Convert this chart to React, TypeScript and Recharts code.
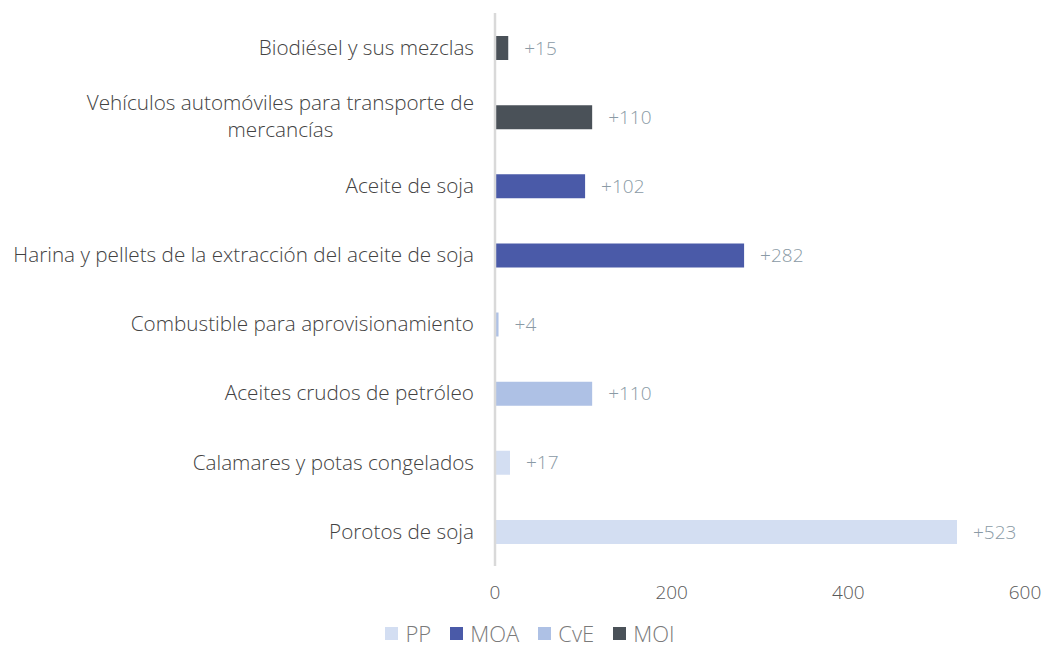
import { BarChart, Bar, XAxis, YAxis, Legend, LabelList } from 'recharts';

const categories = [
  'Biodiésel y sus mezclas',
  'Vehículos automóviles para transporte de mercancías',
  'Aceite de soja',
  'Harina y pellets de la extracción del aceite de soja',
  'Combustible para aprovisionamiento',
  'Aceites crudos de petróleo',
  'Calamares y potas congelados',
  'Porotos de soja',
];

const groups = ['MOI', 'MOI', 'MOA', 'MOA', 'CvE', 'CvE', 'PP', 'PP'];
const values = [15, 110, 102, 282, 4, 110, 17, 523];

const seriesNames = ['PP', 'MOA', 'CvE', 'MOI'];
const seriesColors: Record<string, string> = {
  PP: '#d3def2',
  MOA: '#4a5aa8',
  CvE: '#aec1e5',
  MOI: '#4a5158',
};

const xTicks = [0, 200, 400, 600];

const FONT = '"Open Sans", "Noto Sans", sans-serif';
const CAT_SIZE = 20.7;
const CAT_WEIGHT = 300;

const data = categories.map((name, i) => {
  const row: any = { name };
  seriesNames.forEach(s => {
    row[s] = groups[i] === s ? values[i] : null;
  });
  return row;
});

let ctx: CanvasRenderingContext2D | null = null;
function measure(t: string) {
  if (!ctx) ctx = document.createElement('canvas').getContext('2d');
  if (!ctx) return t.length * CAT_SIZE * 0.5;
  ctx.font = `${CAT_WEIGHT} ${CAT_SIZE}px "Open Sans"`;
  return ctx.measureText(t).width;
}

function wrap(text: string, maxW: number) {
  const words = text.split(' ');
  const lines: string[] = [];
  let cur = '';
  words.forEach(w => {
    const next = cur ? cur + ' ' + w : w;
    if (cur && measure(next) > maxW) {
      lines.push(cur);
      cur = w;
    } else {
      cur = next;
    }
  });
  if (cur) lines.push(cur);
  return lines;
}

// wrapped lines are centred on each other, the block is right-aligned
const CategoryTick = ({ x, y, payload }: any) => {
  const lines = wrap(payload.value, 475);
  const maxW = Math.max(...lines.map(measure));
  const right = x - 13;
  const lh = 27;
  const y0 = y - ((lines.length - 1) * lh) / 2;
  return (
    <text
      textAnchor="middle"
      fill="#424242"
      fontSize={CAT_SIZE}
      fontWeight={CAT_WEIGHT}
      fontFamily={FONT}
    >
      {lines.map((l, i) => (
        <tspan key={i} x={right - maxW / 2} y={y0 + i * lh} dy="0.35em">
          {l}
        </tspan>
      ))}
    </text>
  );
};

const LegendBox = () => (
  <div style={{ display: 'flex', justifyContent: 'center', gap: 19, fontFamily: FONT, fontSize: 22, fontWeight: 300, color: '#7a7a7a' }}>
    {seriesNames.map(s => (
      <div key={s} style={{ display: 'flex', alignItems: 'center', gap: 7 }}>
        <div style={{ width: 13, height: 13, background: seriesColors[s] }} />
        <span>{s}</span>
      </div>
    ))}
  </div>
);

export default function App() {
  return (
    <div style={{ position: 'absolute', left: 0, top: 0, background: '#fff' }}>
      <BarChart
        width={1050}
        height={646}
        data={data}
        layout="vertical"
        margin={{ top: 13, right: 25, left: 0, bottom: 12 }}
        barCategoryGap={0}
      >
        <XAxis
          type="number"
          domain={[0, 600]}
          ticks={xTicks}
          axisLine={false}
          tickLine={false}
          tickMargin={14}
          height={40}
          tick={{ fill: '#595959', fontSize: 19, fontWeight: 300, fontFamily: FONT }}
        />
        <YAxis
          type="category"
          dataKey="name"
          width={495}
          axisLine={{ stroke: '#d9d9d9', strokeWidth: 2.5 }}
          tickLine={false}
          interval={0}
          tick={<CategoryTick />}
        />
        <Legend
          verticalAlign="bottom"
          height={28}
          content={<LegendBox />}
          wrapperStyle={{ left: 0, width: 1060, top: 618 }}
        />
        {seriesNames.map(s => (
          <Bar key={s} dataKey={s} stackId="a" fill={seriesColors[s]} barSize={24} isAnimationActive={false}>
            <LabelList
              dataKey={s}
              position="right"
              offset={16}
              fill="#8a9aa5"
              fontSize={19}
              fontWeight={300}
              fontFamily={FONT}
              formatter={(v: any) => (v == null ? '' : `+${v}`)}
            />
          </Bar>
        ))}
      </BarChart>
    </div>
  );
}
